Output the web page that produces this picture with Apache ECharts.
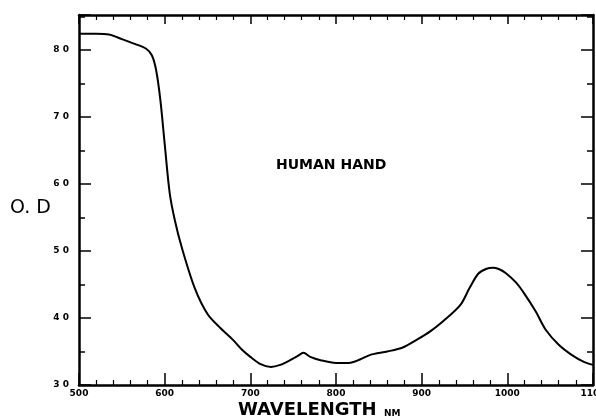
<!DOCTYPE html>
<html>
<head>
<meta charset="utf-8">
<script src="https://cdn.jsdelivr.net/npm/echarts@6/dist/echarts.min.js"></script>
<style>
  html, body { margin: 0; padding: 0; background: #fff; }
  #container { width: 596px; height: 419px; }
</style>
</head>
<body>
<div id="container"></div>
<script>
// wavelength (nm) and optical density
var wavelength = [500, 520, 535, 550, 565, 578, 585, 590, 595, 600, 606, 612, 620, 635, 650, 665, 680, 690, 700, 712,
    724, 735, 745, 755, 762, 770, 782, 800, 815, 828, 840, 860, 878, 895, 910, 925, 945, 956, 966, 975,
    983, 990, 998, 1010, 1020, 1033, 1045, 1060, 1075, 1090, 1100];
var opticalDensity = [82.4, 82.4, 82.3, 81.6, 80.9, 80.2, 79.2, 77, 72.5, 66, 58.5, 54.5, 50.5, 44.5, 40.6, 38.5, 36.7, 35.3, 34.2, 33.1,
    32.7, 33.0, 33.6, 34.3, 34.8, 34.2, 33.7, 33.3, 33.3, 33.8, 34.5, 35.0, 35.6, 36.8, 38.0, 39.5, 41.9, 44.5, 46.6, 47.3,
    47.5, 47.3, 46.7, 45.3, 43.6, 41, 38.2, 36.0, 34.5, 33.4, 33.0];

var points = wavelength.map(function(w, i) {
    return [w, opticalDensity[i]];
});

var labelFont = 'DejaVu Sans';
var axisLine = { show: true, onZero: false, lineStyle: { color: '#000', width: 2.5 } };

function spaced(v) {
    return String(v).split('').join(' ');
}

var myChart = echarts.init(document.getElementById('container'));
myChart.setOption({
    animation: false,
    grid: { left: 79, right: 3, top: 15, bottom: 34, outerBoundsMode: 'none', containLabel: false },
    xAxis: [{
            type: 'value',
            min: 500,
            max: 1100,
            interval: 100,
            position: 'bottom',
            axisLine: axisLine,
            axisTick: { inside: true, length: 12, lineStyle: { color: '#000', width: 1.5 } },
            minorTick: { show: true, splitNumber: 5, length: 5, lineStyle: { color: '#000', width: 1.2 } },
            splitLine: { show: false },
            axisLabel: {
                margin: 4, fontSize: 9, fontWeight: 'bold', color: '#000', fontFamily: labelFont,
                formatter: function(v) { return String(v); }
            }
        }, {
            type: 'value',
            min: 500,
            max: 1100,
            interval: 100,
            position: 'top',
            axisLine: axisLine,
            axisTick: { inside: true, length: 9, lineStyle: { color: '#000', width: 1.5 } },
            minorTick: { show: true, splitNumber: 5, length: 5, lineStyle: { color: '#000', width: 1.2 } },
            splitLine: { show: false },
            axisLabel: { show: false }
        }],
    yAxis: [{
            type: 'value',
            min: 30,
            max: 85.2,
            interval: 10,
            position: 'left',
            axisLine: axisLine,
            axisTick: { inside: true, length: 12, lineStyle: { color: '#000', width: 1.5 } },
            minorTick: { show: true, splitNumber: 2, length: 6, lineStyle: { color: '#000', width: 1.5 } },
            splitLine: { show: false },
            axisLabel: {
                margin: 10, fontSize: 9, fontWeight: 'bold', color: '#000', fontFamily: labelFont,
                formatter: function(v) { return v > 85 ? '' : spaced(v); }
            }
        }, {
            type: 'value',
            min: 30,
            max: 85.2,
            interval: 10,
            position: 'right',
            axisLine: axisLine,
            axisTick: { inside: true, length: 12, lineStyle: { color: '#000', width: 1.5 } },
            minorTick: { show: true, splitNumber: 2, length: 6, lineStyle: { color: '#000', width: 1.5 } },
            splitLine: { show: false },
            axisLabel: { show: false }
        }],
    graphic: [{
            type: 'text',
            left: 10,
            top: 199,
            style: { text: 'O. D', font: '19px DejaVu Sans', fill: '#000' }
        }, {
            type: 'text',
            left: 238,
            top: 401,
            style: { text: 'WAVELENGTH', font: 'bold 18px DejaVu Sans', fill: '#000' }
        }, {
            type: 'text',
            left: 384,
            top: 409,
            style: { text: 'NM', font: 'bold 9px DejaVu Sans', fill: '#000' }
        }, {
            type: 'text',
            left: 276,
            top: 158,
            style: { text: 'HUMAN HAND', font: 'bold 14px DejaVu Sans', fill: '#000' }
        }],
    series: [{
            name: 'O.D',
            type: 'line',
            data: points,
            showSymbol: false,
            smooth: 0.3,
            lineStyle: { color: '#000', width: 2 }
        }]
});
</script>
</body>
</html>
